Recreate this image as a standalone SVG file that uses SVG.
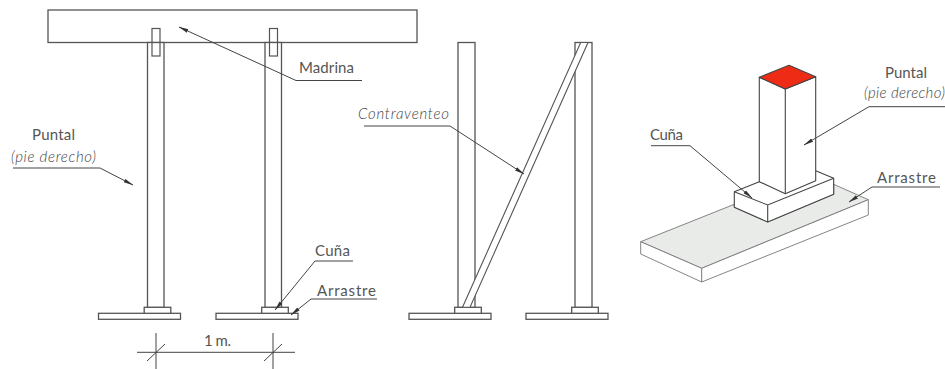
<svg xmlns="http://www.w3.org/2000/svg" width="945" height="369" viewBox="0 0 945 369">
<defs>
<marker id="arr" markerUnits="userSpaceOnUse" markerWidth="10" markerHeight="6" refX="9.5" refY="2.5" orient="auto"><path d="M0 0.6L10 2.5L0 4.4Z" fill="#333"/></marker>
<g id="foot"><rect class="s" x="-41" y="6" width="82" height="6"/><rect class="s" x="4.7" y="0" width="26.6" height="6"/></g>
</defs>
<style>
.s{fill:#fff;stroke:#555;stroke-width:1.3}
.c{fill:none;stroke:#555;stroke-width:1.2}
.l{fill:none;stroke:#444;stroke-width:1}
.n{fill:#fff;stroke:#444;stroke-width:1.1;stroke-linejoin:round}
.o{fill:none;stroke:#444;stroke-width:1.1}
.r{fill:#ee2c16;stroke:#444;stroke-width:1.1;stroke-linejoin:round}
.lead{fill:none;stroke:#444;stroke-width:1;marker-end:url(#arr)}
.d{stroke:#444;stroke-width:1;fill:none}
text{font-family:"Lato","Noto Sans",sans-serif;font-size:15px;fill:#555;font-weight:400}
.i{font-style:italic;font-weight:300;fill:#444}
</style>
<rect width="945" height="369" fill="#fff"/>
<g id="beam"><rect class="s" x="48" y="10" width="369" height="32.5"/></g>
<g id="post1"><rect class="s" x="147.5" y="42.5" width="16.5" height="265"/><rect class="c" x="152" y="28.5" width="8" height="27.5"/><use href="#foot" x="139.5" y="307.3"/></g>
<g id="post2"><rect class="s" x="265" y="42.5" width="16.5" height="265"/><rect class="c" x="269.5" y="28.5" width="8" height="27.5"/><use href="#foot" x="257" y="307.3"/></g>
<g id="post3"><rect class="s" x="458" y="42.5" width="17" height="265"/><use href="#foot" x="450" y="307.3"/></g>
<g id="post4"><rect class="s" x="575" y="42.5" width="17" height="265"/><use href="#foot" x="567" y="307.3"/></g>
<g id="brace"><path class="s" d="M462.5 307.3L580.7 42.5H588L470 307.3Z" style="stroke-width:1.1"/></g>
<g id="iso">
<path fill="#e9ebe9" stroke="#777" stroke-width="0.9" d="M640.7 241.7L734.3 204.3V207.3L767.7 222L833.7 194.3V184.3L868.3 199.7L701.7 268.3Z"/>
<path fill="#fff" stroke="#777" stroke-width="0.9" d="M640.7 241.7L701.7 268.3L868.3 199.7V215L701.7 282L640.7 254Z"/>
<path class="l" d="M701.7 268.3V282" style="stroke:#777"/>
<path class="n" d="M734.3 191.7L759.3 181.7L815.7 170.7L833.7 178.3V194.3L767.7 222L734.3 207.3Z"/>
<path class="o" d="M734.3 191.7L767.7 205L833.7 178.3M767.7 205V222"/>
<path class="n" d="M759.3 77.3L785.3 89L815.7 76.7V180.7L785.3 193.7L759.3 181.7Z"/>
<path class="o" d="M785.3 89V193.7"/>
<path class="r" d="M759.3 77.3L789 65.3L815.7 76.7L785.3 89Z"/>
</g>
<g id="connectors">
<path class="lead" d="M362 80.5H296L179 27"/>
<path class="lead" d="M13 168H100L133 185"/>
<path class="lead" d="M364 126H450L524 174"/>
<path class="lead" d="M353 261H315L275 310"/>
<path class="lead" d="M377 299H311L291 315"/>
<path class="lead" d="M945 106.7H869L804 145"/>
<path class="lead" d="M651 145.7H690L752 198"/>
<path class="lead" d="M940 187H872L849 202"/>
<path class="d" d="M137 352.3H295M156 333V369M273 333V369M147 361L165 344M264 361L282 344"/>
</g>
<g id="labels">
<text x="299" y="73" textLength="55">Madrina</text>
<text x="32" y="140" textLength="43">Puntal</text>
<text class="i" x="11" y="162" textLength="85">(pie derecho)</text>
<text class="i" x="358" y="119" textLength="91">Contraventeo</text>
<text x="315" y="256" textLength="35">Cuña</text>
<text x="317" y="296" textLength="59">Arrastre</text>
<text x="204" y="346" textLength="27">1 m.</text>
<text x="885" y="78" textLength="42">Puntal</text>
<text class="i" x="864" y="98" textLength="81">(pie derecho)</text>
<text x="650" y="140" textLength="33">Cuña</text>
<text x="877" y="183" textLength="59">Arrastre</text>
</g>
</svg>
